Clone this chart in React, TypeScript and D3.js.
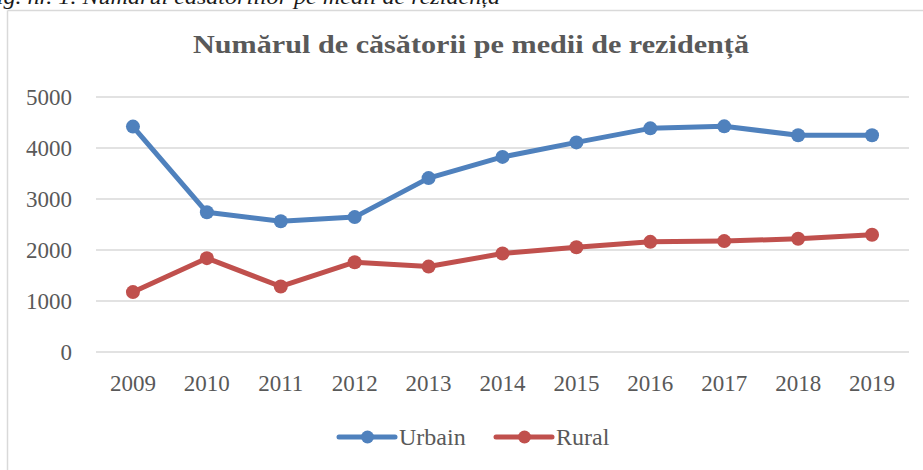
import React from "react";
import * as d3 from "d3";

const years = ["2009", "2010", "2011", "2012", "2013", "2014", "2015", "2016", "2017", "2018", "2019"];
const urbain = [4420, 2740, 2565, 2645, 3410, 3825, 4110, 4385, 4425, 4250, 4250];
const rural = [1175, 1840, 1285, 1760, 1675, 1930, 2055, 2160, 2175, 2220, 2300];
const yTicks = [0, 1000, 2000, 3000, 4000, 5000];
const seriesNames = ["Urbain", "Rural"];
const title = "Numărul de căsătorii pe medii de rezidență";
const caption = "Fig. nr. 1. Numărul căsătoriilor pe medii de rezidență";

const W = 923;
const H = 470;
const FONT = "'Liberation Serif', 'Times New Roman', serif";
const TEXT = "#595959";
const BLUE = "#4F81BD";
const RED = "#C0504D";

export default function App() {
  const x = d3.scaleBand<string>().domain(years).range([96, 909]);
  const y = d3.scaleLinear().domain([0, 5000]).range([352, 97]);
  const cx = (d: string) => (x(d) as number) + x.bandwidth() / 2;
  const line = d3
    .line<number>()
    .x((_, i) => cx(years[i]))
    .y((v) => y(v));
  const series = [
    { name: seriesNames[0], values: urbain, color: BLUE },
    { name: seriesNames[1], values: rural, color: RED },
  ];
  const legendX = [339, 496];

  return (
    <svg
      width={W}
      height={H}
      style={{ position: "absolute", left: 0, top: 0, background: "#fff" }}
      fontFamily={FONT}
    >
      <rect x={0} y={0} width={W} height={H} fill="#fff" />
      <text
        x={-18}
        y={4}
        fontSize={21}
        fontStyle="italic"
        fill="#1a1a1a"
        textLength={518}
        lengthAdjust="spacingAndGlyphs"
      >
        {caption}
      </text>
      <line x1={7.5} x2={W} y1={10.5} y2={10.5} stroke="#d9d9d9" strokeWidth={1.5} />
      <line x1={7.5} x2={7.5} y1={10.5} y2={H} stroke="#d9d9d9" strokeWidth={1.5} />
      <text
        x={471}
        y={53}
        textAnchor="middle"
        fontSize={25}
        fontWeight="bold"
        fill={TEXT}
        textLength={556}
        lengthAdjust="spacingAndGlyphs"
      >
        {title}
      </text>
      {yTicks.map((t) => (
        <g key={t}>
          <line x1={96} x2={909} y1={y(t)} y2={y(t)} stroke="#d9d9d9" strokeWidth={1.5} />
          <text x={72} y={y(t) + 7.5} textAnchor="end" fontSize={23} fill={TEXT}>
            {t}
          </text>
        </g>
      ))}
      {years.map((yr) => (
        <text key={yr} x={cx(yr)} y={391} textAnchor="middle" fontSize={23} fill={TEXT}>
          {yr}
        </text>
      ))}
      {series.map((s) => (
        <g key={s.name}>
          <path
            d={line(s.values) as string}
            fill="none"
            stroke={s.color}
            strokeWidth={5}
            strokeLinejoin="round"
            strokeLinecap="round"
          />
          {s.values.map((v, i) => (
            <circle key={i} cx={cx(years[i])} cy={y(v)} r={7} fill={s.color} />
          ))}
        </g>
      ))}
      {series.map((s, i) => (
        <g key={s.name} transform={`translate(${legendX[i]},437)`}>
          <line x1={0} x2={56} y1={0} y2={0} stroke={s.color} strokeWidth={5} strokeLinecap="round" />
          <circle cx={28.5} cy={0} r={6.5} fill={s.color} />
          <text x={60} y={8} fontSize={24} fill={TEXT}>
            {s.name}
          </text>
        </g>
      ))}
    </svg>
  );
}
